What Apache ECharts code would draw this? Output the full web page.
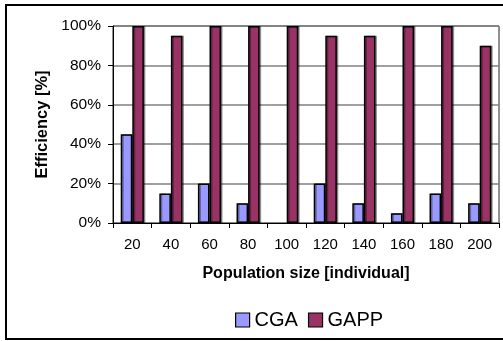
<!DOCTYPE html>
<html>
<head>
<meta charset="utf-8">
<script src="https://cdn.jsdelivr.net/npm/echarts@6/dist/echarts.min.js"></script>
<style>
  html, body { margin: 0; padding: 0; background: #fff; }
  #chart { width: 503px; height: 341px; }
</style>
</head>
<body>
<div id="chart"></div>
<script>
// Population sizes tested
const categories = ['20', '40', '60', '80', '100', '120', '140', '160', '180', '200'];
// Efficiency in percent for each algorithm
const cgaValues  = [45, 15, 20, 10, 0, 20, 10, 5, 15, 10];
const gappValues = [100, 95, 100, 100, 100, 95, 95, 100, 100, 90];
const seriesNames = ['CGA', 'GAPP'];
const seriesColors = ['#9999FF', '#993366'];

const FONT = '"Liberation Sans", Arial, sans-serif';

const chart = echarts.init(document.getElementById('chart'), null, { renderer: 'canvas' });

const barStyle = (color) => ({
  color: color,
  borderColor: '#000',
  borderWidth: 1.5,
  shadowColor: 'rgba(0,0,0,0.35)',
  shadowOffsetX: 1.5,
  shadowOffsetY: 0,
  shadowBlur: 0
});

// zero-height bars get no outline so nothing is drawn for them
const toBarData = (values) => values.map((v) =>
  v === 0 ? { value: v, itemStyle: { borderWidth: 0, shadowColor: 'transparent' } } : v);

chart.setOption({
  animation: false,
  backgroundColor: '#fff',
  textStyle: { fontFamily: FONT },
  graphic: [{
    type: 'rect',
    shape: { x: 6, y: 5, width: 520, height: 334 },
    style: { fill: 'none', stroke: '#000', lineWidth: 2 },
    silent: true,
    z: 100
  }],
  grid: {
    left: 113, top: 26, right: 4, bottom: 118,
    show: true, borderColor: '#222', borderWidth: 1
  },
  legend: {
    data: seriesNames.map((n) => ({ name: n, icon: 'rect' })),
    top: 305,
    left: 230,
    itemWidth: 14,
    itemHeight: 14,
    itemGap: 10,
    itemStyle: { borderColor: '#000', borderWidth: 1.2, shadowBlur: 0, shadowOffsetX: 0 },
    textStyle: { fontFamily: FONT, fontSize: 20, color: '#000' }
  },
  xAxis: {
    type: 'category',
    data: categories,
    name: 'Population size [individual]',
    nameLocation: 'middle',
    nameGap: 43,
    nameTextStyle: { fontFamily: FONT, fontSize: 16, fontWeight: 'bold', color: '#000' },
    axisLine: { lineStyle: { color: '#000', width: 1 } },
    axisTick: { show: true, length: 5, lineStyle: { color: '#000' } },
    axisLabel: { fontFamily: FONT, fontSize: 15, color: '#000', margin: 14 }
  },
  yAxis: {
    type: 'value',
    min: 0, max: 100, interval: 20,
    name: 'Efficiency [%]',
    nameLocation: 'middle',
    nameGap: 61,
    nameTextStyle: { fontFamily: FONT, fontSize: 16.5, fontWeight: 'bold', color: '#000' },
    axisLine: { show: true, lineStyle: { color: '#000', width: 1 } },
    axisTick: { show: true, length: 5, lineStyle: { color: '#000' } },
    axisLabel: { fontFamily: FONT, fontSize: 15.5, color: '#000', margin: 12, formatter: '{value}%' },
    splitLine: { lineStyle: { color: '#808080', width: 1.5 } }
  },
  series: [
    {
      name: seriesNames[0], type: 'bar', data: toBarData(cgaValues),
      barGap: '0%', barCategoryGap: '40%',
      itemStyle: barStyle(seriesColors[0])
    },
    {
      name: seriesNames[1], type: 'bar', data: toBarData(gappValues),
      barGap: '0%', barCategoryGap: '40%',
      itemStyle: barStyle(seriesColors[1])
    }
  ]
});
</script>
</body>
</html>
